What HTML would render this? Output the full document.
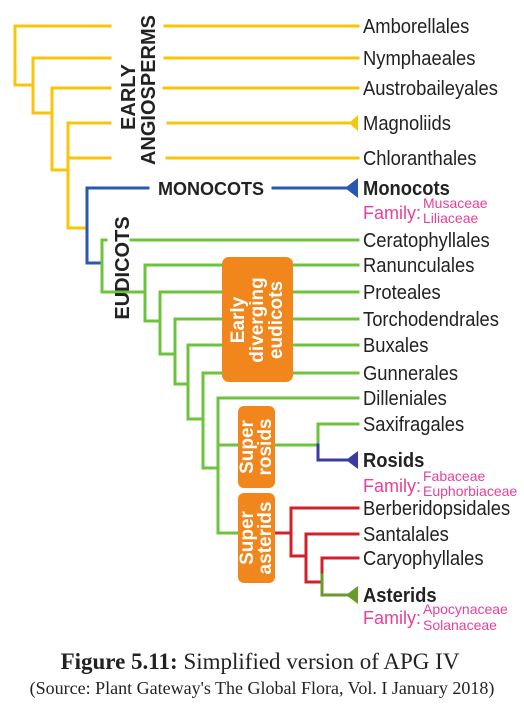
<!DOCTYPE html>
<html><head><meta charset="utf-8"><style>
html,body{margin:0;padding:0;background:#fff;width:524px;height:712px;overflow:hidden}
svg{display:block}
.lab{font-family:"Liberation Sans",sans-serif;font-size:20px;fill:#222}
.b{font-weight:bold}
.pk{fill:#e8409a;font-family:"Liberation Sans",sans-serif}
.vt{font-family:"Liberation Sans",sans-serif;font-weight:bold;fill:#222}
.wt{font-family:"Liberation Sans",sans-serif;font-weight:bold;fill:#fff;font-size:19px}
.cap{font-family:"Liberation Serif",serif;fill:#222}
</style></head><body>
<svg width="524" height="712" viewBox="0 0 524 712">
<g fill="none" stroke-width="3" stroke-linecap="square">
 <g stroke="#f9c50a">
  <path d="M15 26V85H33M15 26H110M165 26H358"/>
  <path d="M33 58V113H52M33 58H110M165 58H358"/>
  <path d="M52 88V170H68M52 88H110M164 88H358"/>
  <path d="M68 123V228H87M68 123H110M168 123H352"/>
  <path d="M68 158H110M167 158H358"/>
 </g>
 <polygon points="349,123 358,115 358,131" fill="#f9c50a" stroke="none"/>
 <path stroke="#2a57b0" d="M87 188V263H102M87 188H148M273 188H348"/>
 <polygon points="345,188 358,178 358,198" fill="#2a57b0"/>
 <g stroke="#6cc43c">
  <path d="M102 240V292H145M102 240H106M131 240H358"/>
  <path d="M145 265V321H160M145 265H358"/>
  <path d="M160 292V354H175M160 292H358"/>
  <path d="M175 319V384H188M175 319H358"/>
  <path d="M188 345V419H203M188 345H358"/>
  <path d="M203 373V468H218M203 373H358"/>
  <path d="M218 398V533H240M218 398H358"/>
  <path d="M218 445H318V424H358"/>
 </g>
 <path stroke="#3a3aa0" d="M318 445V460H348"/>
 <polygon points="346,460 358,451 358,469" fill="#3a3aa0"/>
 <g stroke="#d0202a">
  <path d="M272 533H291V508H358M291 533V556H306"/>
  <path d="M306 534H358M306 534V582H322"/>
  <path d="M322 575V558H358"/>
 </g>
 <path stroke="#6a9a2a" d="M322 575V595H348"/>
 <polygon points="346,595 358,586 358,604" fill="#6a9a2a"/>
</g>
<rect x="222" y="257" width="71" height="125" rx="7" fill="#f0861c"/>
<rect x="238" y="406" width="37" height="82" rx="6" fill="#f0861c"/>
<rect x="238" y="493" width="37" height="90" rx="6" fill="#f0861c"/>
<g text-anchor="middle">
 <text class="wt" transform="translate(257,320) rotate(-90)"><tspan x="0" y="-13">Early</tspan><tspan x="0" y="6">diverging</tspan><tspan x="0" y="25">eudicots</tspan></text>
 <text class="wt" transform="translate(256,447) rotate(-90)"><tspan x="0" y="-3">Super</tspan><tspan x="0" y="15">rosids</tspan></text>
 <text class="wt" transform="translate(256,538) rotate(-90)"><tspan x="0" y="-3">Super</tspan><tspan x="0" y="15">asterids</tspan></text>
</g>
<text class="vt" font-size="20" text-anchor="middle" transform="translate(135,97) rotate(-90)">EARLY</text>
<text class="vt" font-size="20" text-anchor="middle" transform="translate(155,90) rotate(-90)">ANGIOSPERMS</text>
<text class="vt" font-size="20" text-anchor="middle" transform="translate(129,268) rotate(-90)">EUDICOTS</text>
<text class="vt" font-size="18" x="211" y="195" text-anchor="middle">MONOCOTS</text>
<g id="leaves"></g>
<text class="pk" font-size="18" x="363" y="219">Family:</text>
<text class="pk" font-size="14" x="423" y="208">Musaceae</text>
<text class="pk" font-size="14" x="423" y="223">Liliaceae</text>
<text class="pk" font-size="18" x="363" y="492">Family:</text>
<text class="pk" font-size="14" x="423" y="481">Fabaceae</text>
<text class="pk" font-size="14" x="423" y="496">Euphorbiaceae</text>
<text class="pk" font-size="18" x="363" y="624">Family:</text>
<text class="pk" font-size="14" x="423" y="614">Apocynaceae</text>
<text class="pk" font-size="14" x="423" y="630">Solanaceae</text>
<text class="cap" font-size="23" x="260" y="669" text-anchor="middle"><tspan font-weight="bold">Figure 5.11:</tspan>  Simplified version of APG IV</text>
<text class="cap" font-size="18" x="262" y="694" text-anchor="middle">(Source: Plant Gateway's The Global Flora, Vol. I January 2018)</text>
</svg>
<script>
const leafNames=["Amborellales","Nymphaeales","Austrobaileyales","Magnoliids","Chloranthales","Monocots","Ceratophyllales","Ranunculales","Proteales","Torchodendrales","Buxales","Gunnerales","Dilleniales","Saxifragales","Rosids","Berberidopsidales","Santalales","Caryophyllales","Asterids"];
const leafY=[26,58,88,123,158,188,240,265,292,319,345,373,398,424,460,508,534,558,595];
const boldLeaves=["Monocots","Rosids","Asterids"];
const g=document.getElementById('leaves');
leafNames.forEach((n,i)=>{
 const t=document.createElementNS('http://www.w3.org/2000/svg','text');
 t.setAttribute('class','lab'+(boldLeaves.includes(n)?' b':''));
 t.setAttribute('transform','translate(363,'+(leafY[i]+7)+') scale(0.92,1)');
 t.textContent=n;
 
 
 g.appendChild(t);
});
</script>
</body></html>
